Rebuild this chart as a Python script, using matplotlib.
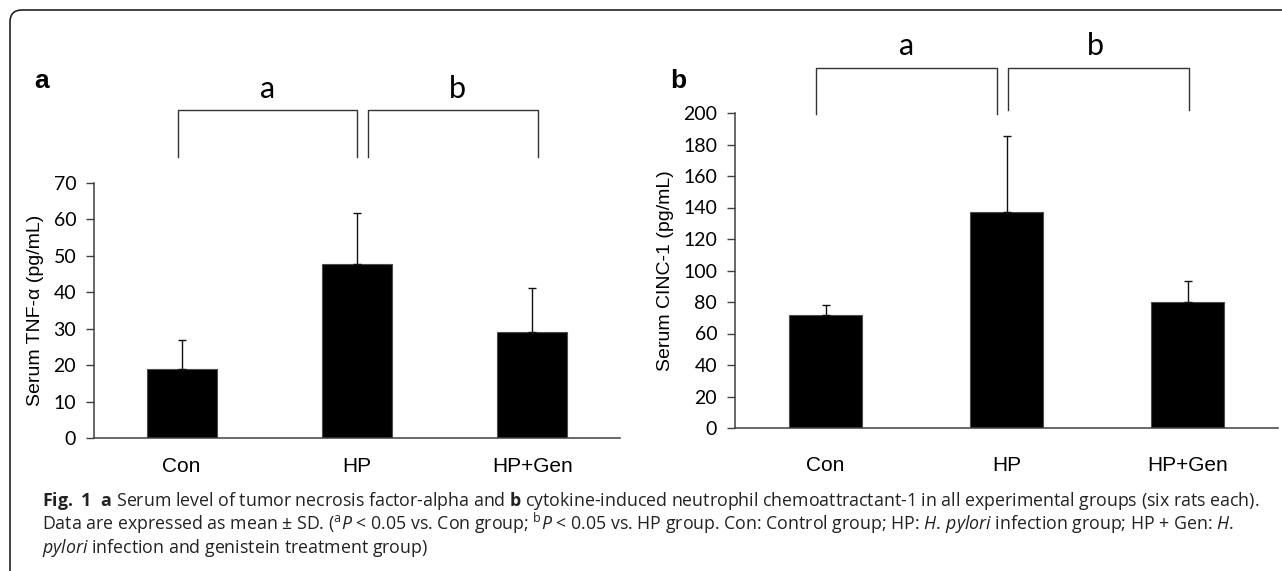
import matplotlib
matplotlib.use("Agg")
import matplotlib.pyplot as plt
import numpy as np
from matplotlib.patches import FancyBboxPatch
from matplotlib.transforms import IdentityTransform

W, H = 1282, 571

groups = ["Con", "HP", "HP+Gen"]
tnf_mean = [18.9, 47.9, 29.2]
tnf_sd = [8.0, 14.0, 12.0]
cinc_mean = [72.0, 137.0, 80.2]
cinc_sd = [6.3, 48.2, 13.1]
sig_letters = ["a", "b"]

caption_lines = [
    r"$\mathbf{Fig.\ 1\ \ a}$ Serum level of tumor necrosis factor-alpha and $\mathbf{b}$ "
    r"cytokine-induced neutrophil chemoattractant-1 in all experimental groups (six rats each).",
    r"Data are expressed as mean ± SD. ($^{\mathrm{a}}\mathit{P}$ < 0.05 vs. Con group; "
    r"$^{\mathrm{b}}\mathit{P}$ < 0.05 vs. HP group. Con: Control group; HP: $\mathit{H.\,pylori}$ "
    r"infection group; HP + Gen: $\mathit{H.}$",
    r"$\mathit{pylori}$ infection and genistein treatment group)",
]

plt.rcParams.update({
    "mathtext.fontset": "custom",
    "mathtext.rm": "Open Sans",
    "mathtext.it": "Open Sans:italic",
    "mathtext.bf": "Open Sans:bold",
})


def px_box(left, top, right, bottom):
    return [left / W, 1 - bottom / H, (right - left) / W, (bottom - top) / H]


def draw_panel(ax, means, sds, ymax, ystep, ylabel, xpad, brackets, letter_y):
    x = np.arange(len(groups))
    ax.bar(x, means, width=0.4, color="black", edgecolor="#4d4d4d",
           linewidth=0.8, zorder=2)
    ax.errorbar(x, means, yerr=[np.zeros(len(sds)), sds], fmt="none",
                ecolor="#111111", elinewidth=1.0, capsize=3, capthick=1.0, zorder=3)
    ax.set_xlim(-0.5, 2.5)
    ax.set_ylim(0, ymax)

    ticks = np.arange(0, ymax + 1, ystep)
    ax.set_yticks(ticks, [str(t) for t in ticks], fontfamily="Lato", fontsize=14)
    ax.set_xticks(x, groups, fontfamily="Liberation Sans", fontsize=15)
    ax.tick_params(axis="y", length=5.8, width=1.0, pad=7, color="#404040")
    ax.tick_params(axis="x", length=0, pad=xpad)
    ax.set_ylabel(ylabel, fontfamily="Liberation Sans", fontsize=14, labelpad=7)

    for side in ("top", "right"):
        ax.spines[side].set_visible(False)
    for side in ("left", "bottom"):
        ax.spines[side].set_color("#404040")
        ax.spines[side].set_linewidth(1.1)

    # significance brackets above the plot area
    for (x0, x1, ytop, ybot, lx), letter in zip(brackets, sig_letters):
        ax.plot([x0, x0, x1, x1], [ybot, ytop, ytop, ybot], color="#333333",
                lw=1.0, clip_on=False)
        ax.text(lx, letter_y, letter, fontfamily="Lato", fontsize=22,
                ha="center", va="baseline")


fig = plt.figure(figsize=(W / 100, H / 100), dpi=100)

ax_a = fig.add_axes(px_box(94, 183, 620, 438))
draw_panel(ax_a, tnf_mean, tnf_sd, 70, 10, "Serum TNF-α (pg/mL)", 14,
           [(-0.02, 1.0, 90.0, 77.1, 0.49), (1.06, 2.03, 90.0, 77.1, 1.57)], 93.3)

ax_b = fig.add_axes(px_box(735, 113, 1278, 428))
draw_panel(ax_b, cinc_mean, cinc_sd, 200, 20, "Serum CINC-1 (pg/mL)", 20,
           [(-0.05, 0.947, 228.6, 199.4, 0.45), (1.008, 2.008, 228.6, 201.9, 1.49)], 236.8)

fig.text(42 / W, 1 - 88 / H, "a", fontfamily="Liberation Sans", fontweight="bold",
         fontsize=19, ha="center", va="baseline")
fig.text(678 / W, 1 - 88 / H, "b", fontfamily="Liberation Sans", fontweight="bold",
         fontsize=19, ha="center", va="baseline")

# caption, fitted to the width of the first line
cap = [fig.text(42 / W, 1 - y / H, line, fontfamily="Open Sans", fontsize=12,
                va="baseline", color="#222222")
       for line, y in zip(caption_lines, [506, 530, 553])]
fig.canvas.draw()
width = cap[0].get_window_extent(fig.canvas.get_renderer()).width
for t in cap:
    t.set_fontsize(12 * (1261 - 42) / width)

frame = FancyBboxPatch((10, -60), 1400, H - 10 + 60,
                       boxstyle="round,pad=0,rounding_size=12",
                       transform=IdentityTransform(), fill=False,
                       edgecolor="#222222", linewidth=1.2)
fig.add_artist(frame)

fig.savefig("out.png", dpi=100)
